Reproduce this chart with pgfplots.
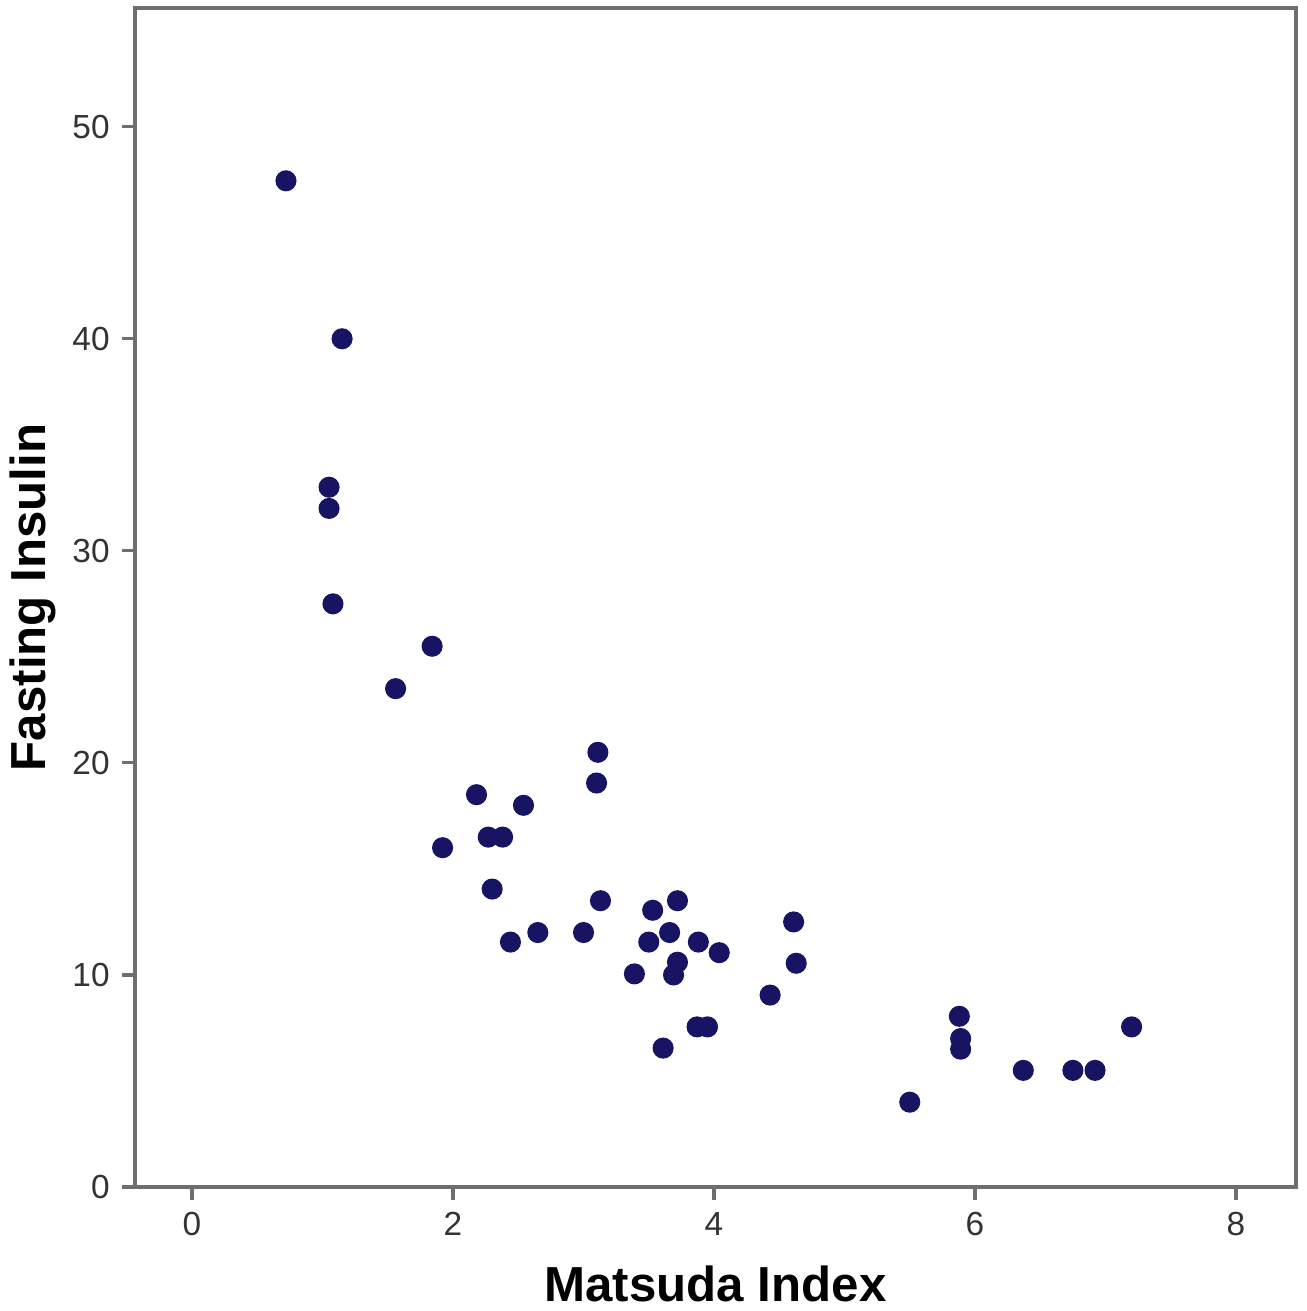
\documentclass[border=0pt]{standalone}
\usepackage{fontspec}
\setmainfont{Liberation Sans}
\usepackage{pgfplots}
\pgfplotsset{compat=1.18}
\definecolor{dotblue}{RGB}{24,20,100}
\definecolor{axgray}{RGB}{110,110,110}
\begin{document}
\begin{tikzpicture}
\begin{axis}[
  scale only axis,
  width=11.61cm, height=11.79cm,
  xmin=-0.437, xmax=8.46,
  ymin=0, ymax=55.6,
  xtick={0,2,4,6,8}, ytick={0,10,20,30,40,50},
  tick pos=left, tick align=outside,
  major tick length=0.13cm,
  axis line style={axgray, line width=0.9pt},
  every tick/.style={axgray, line width=0.9pt},
  tick label style={font=\fontsize{9.5}{11}\selectfont, text=black!80},
  /pgf/number format/assume math mode=true,
  xlabel={\bfseries Matsuda Index},
  ylabel={\bfseries Fasting Insulin},
  label style={font=\fontsize{14}{16}\selectfont},
  xlabel style={at={(axis description cs:0.5,-0.0823)}, anchor=center},
  ylabel style={at={(axis description cs:-0.0879,0.5)}, anchor=center},
]
\addplot[only marks, mark=*, mark size=2.8pt, mark options={draw=dotblue, fill=dotblue}] coordinates {
  (0.72,47.45) (1.15,40.0) (1.05,33.0) (1.05,32.0) (1.08,27.5)
  (1.84,25.5) (1.56,23.5)
  (3.11,20.5) (3.10,19.05) (2.18,18.5) (2.54,18.0)
  (2.27,16.5) (2.38,16.5) (1.92,16.0) (2.30,14.05)
  (3.13,13.5) (3.72,13.5) (3.53,13.05) (4.61,12.5)
  (2.65,12.0) (3.00,12.0) (3.66,12.0)
  (2.44,11.55) (3.50,11.55) (3.88,11.55) (4.04,11.05)
  (3.72,10.6) (4.63,10.55) (3.39,10.05) (3.69,10.0)
  (4.43,9.05) (5.88,8.05)
  (3.87,7.55) (3.95,7.55) (7.20,7.55)
  (5.89,7.0) (5.89,6.5) (3.61,6.55)
  (6.37,5.5) (6.75,5.5) (6.92,5.5)
  (5.50,4.0)
};
\end{axis}
\pgfresetboundingbox
\path[use as bounding box] (-1.35cm,-1.24cm) rectangle (11.71cm,11.87cm);
\end{tikzpicture}
\end{document}
